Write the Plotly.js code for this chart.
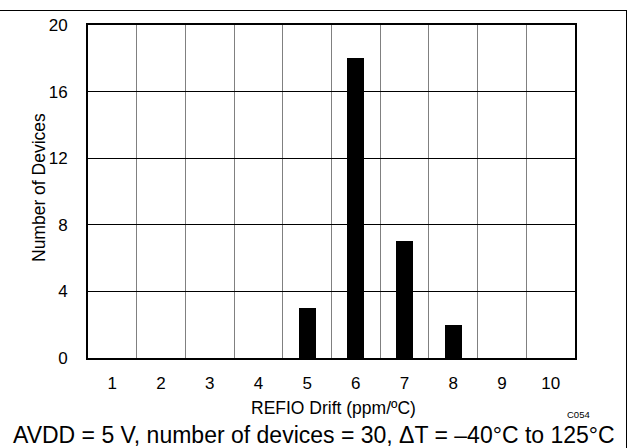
<!DOCTYPE html>
<html>
<head>
<meta charset="utf-8">
<script src="https://cdn.plot.ly/plotly-3.0.1.min.js"></script>
<style>
html,body{margin:0;padding:0;background:#fff;}
#chart{width:628px;height:448px;}
#frame{position:absolute;top:10px;left:-2px;width:629px;height:445px;border:1px solid #000;box-sizing:border-box;pointer-events:none;}
</style>
</head>
<body>
<div id="chart"></div>
<div id="frame"></div>
<script>
const driftBins = [1,2,3,4,5,6,7,8,9,10];
const deviceCounts = [0,0,0,0,3,18,7,2,0,0];
const yTicks = [0,4,8,12,16,20];
const xTitle = 'REFIO Drift (ppm/ºC)';
const yTitle = 'Number of Devices';
const caption = 'AVDD = 5 V, number of devices = 30, ΔT = –40°C to 125°C';
const figCode = 'C054';

const FONT = 'Arial, "Liberation Sans", sans-serif';
const L = 88, R = 53, T = 25, B = 90;
const W = 628, H = 448;
const pw = W - L - R, ph = H - T - B;
const px = x => (x - L) / pw;
const py = y => (H - B - y) / ph;

Plotly.newPlot('chart', [{
  type: 'bar',
  x: driftBins,
  y: deviceCounts,
  width: 0.35,
  marker: {color: '#000', line: {width: 0}},
  hoverinfo: 'none'
}], {
  width: W, height: H,
  margin: {l: L, r: R, t: T, b: B},
  paper_bgcolor: '#fff',
  plot_bgcolor: '#fff',
  font: {family: FONT, color: '#000'},
  showlegend: false,
  bargap: 0,
  xaxis: {
    range: [0.5, 10.5],
    tickvals: driftBins,
    ticktext: driftBins.map(String),
    showgrid: false,
    zeroline: false,
    ticks: '',
    ticklabelstandoff: 9,
    tickfont: {size: 17, family: FONT},
    showline: true, mirror: true, linecolor: '#000', linewidth: 2,
    minor: {tick0: 0.5, dtick: 1, showgrid: true, gridcolor: '#808080', gridwidth: 1, ticks: ''},
    fixedrange: true
  },
  yaxis: {
    range: [0, 20],
    tickvals: yTicks,
    showgrid: true, gridcolor: '#000', gridwidth: 1,
    zeroline: false,
    ticks: '',
    ticklabelstandoff: 15,
    tickfont: {size: 17, family: FONT},
    showline: true, mirror: true, linecolor: '#000', linewidth: 2,
    fixedrange: true
  },
  annotations: [
    {text: xTitle, xref: 'paper', yref: 'paper', x: px(333), y: py(408), xanchor: 'center', yanchor: 'middle', showarrow: false, font: {size: 17.5, family: FONT}},
    {text: yTitle, xref: 'paper', yref: 'paper', x: px(39), y: py(188), xanchor: 'center', yanchor: 'middle', textangle: -90, showarrow: false, font: {size: 17.5, family: FONT}},
    {text: figCode, xref: 'paper', yref: 'paper', x: px(578), y: py(414), xanchor: 'center', yanchor: 'middle', showarrow: false, font: {size: 9.5, family: FONT}},
    {text: caption, xref: 'paper', yref: 'paper', x: px(314), y: py(435), xanchor: 'center', yanchor: 'middle', showarrow: false, font: {size: 23, family: FONT}}
  ]
}, {staticPlot: true});
</script>
</body>
</html>
